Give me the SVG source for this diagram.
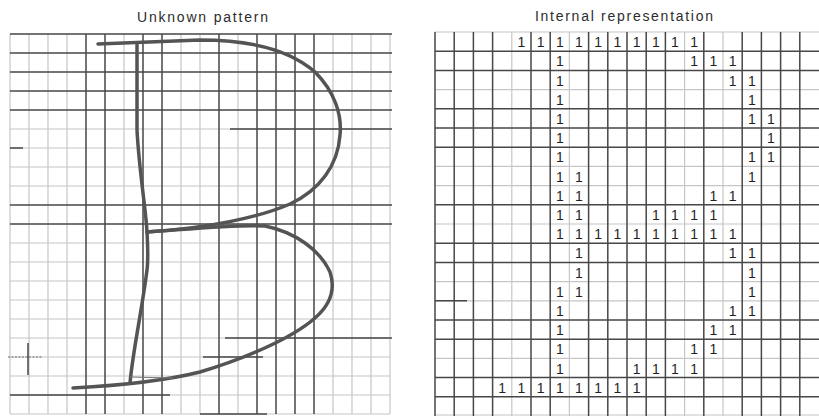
<svg xmlns="http://www.w3.org/2000/svg" width="819" height="416" viewBox="0 0 819 416">
<style>
.lt{stroke:#c6c6c6;stroke-width:1.2;fill:none}
.dk{stroke:#474747;stroke-width:1.5;fill:none}
.dot{stroke:#666;stroke-width:1;stroke-dasharray:2 1.5;fill:none}
.pen{stroke:#545454;stroke-width:3.5;fill:none;stroke-linecap:round;stroke-linejoin:round}
.ttl{font-family:"Liberation Sans",Arial,sans-serif;font-size:14px;fill:#2a2a2a}
.one{font-family:"Liberation Sans",Arial,sans-serif;font-size:14px;fill:#1e1e1e;text-anchor:middle}
</style>
<rect width="819" height="416" fill="#ffffff"/>
<g id="titles" opacity="0.99">
<text class="ttl" x="137" y="22" textLength="131" lengthAdjust="spacing">Unknown pattern</text>
<text class="ttl" x="535" y="21" textLength="178" lengthAdjust="spacing">Internal representation</text>
</g>
<g id="left-grid">
<path class="lt" d="M10 34V414M29 34V414M48 34V414M67 34V414M124 34V414M181 34V414M200 34V414M238 34V414M333 34V414M352 34V414M371 34V414M390 34V414"/>
<path class="lt" d="M10 129H390M10 148H390M10 167H390M10 186H390M10 243H390M10 262H390M10 281H390M10 300H390M10 319H390M10 338H390M10 357H390M10 376H390M10 395H390M10 414H390"/>
<path class="dk" d="M86 34V414M105 34V414M143 34V414M162 34V414M219 34V414M257 34V414M276 34V414M295 34V414M314 34V414"/>
<path class="dk" d="M10 34H392M10 53H392M10 72H392M10 91H392M10 110H392M10 205H392M10 224H392"/>
<path class="dk" d="M230 129H392M225 338H392M203 357H263M10 395H170M200 414H267M10 148H23M28 343V375"/>
<path class="dot" d="M8 357H43"/>
</g>
<g id="right-grid">
<path class="lt" d="M511.8 32V416M569.4 32V416M684.6 32V416M723 32V416"/>
<path class="lt" d="M435 32H819M435 89.6H819M435 166.4H819M435 185.6H819M435 224H819M435 281.6H819M435 300.8H819M435 358.4H819M435 415H819"/>
<path class="dk" d="M435 32V416M454.2 32V416M473.4 32V416M492.6 32V416M531 32V416M550.2 32V416M588.6 32V416M607.8 32V416M627 32V416M646.2 32V416M665.4 32V416M703.8 32V416M742.2 32V416M761.4 32V416M780.6 32V416M799.8 32V416"/>
<path class="dk" d="M435 51.2H819M435 70.4H819M435 108.8H819M435 128H819M435 147.2H819M435 204.8H819M435 243.2H819M435 262.4H819M435 320H819M435 339.2H819M435 377.6H819M435 396.8H819M435 300.8H467"/>
</g>
<g id="pattern-B">
<path class="pen" d="M98 44L200 40C250 40 290 50 315 72C335 92 342 115 340 135C338 165 320 190 290 204C260 217 210 228 147 232"/>
<path class="pen" d="M137 45L137 130C139 170 146 210 147 232C148 250 148 262 147 270C142 310 133 350 130 383"/>
<path class="pen" d="M147 232C190 229 240 224 265 226C295 232 320 250 330 272C336 290 330 305 315 318C290 340 240 360 200 372C160 382 110 386 73 388"/>
<path stroke="#777" stroke-width="1" fill="none" d="M130 377L173 378"/>
</g>
<g id="ones" opacity="0.99">
<text class="one" x="521.4" y="47.1">1</text><text class="one" x="540.6" y="47.1">1</text><text class="one" x="559.8" y="47.1">1</text><text class="one" x="579" y="47.1">1</text><text class="one" x="598.2" y="47.1">1</text><text class="one" x="617.4" y="47.1">1</text><text class="one" x="636.6" y="47.1">1</text><text class="one" x="655.8" y="47.1">1</text><text class="one" x="675" y="47.1">1</text><text class="one" x="694.2" y="47.1">1</text>
<text class="one" x="559.8" y="66.3">1</text><text class="one" x="694.2" y="66.3">1</text><text class="one" x="713.4" y="66.3">1</text><text class="one" x="732.6" y="66.3">1</text>
<text class="one" x="559.8" y="85.5">1</text><text class="one" x="732.6" y="85.5">1</text><text class="one" x="751.8" y="85.5">1</text>
<text class="one" x="559.8" y="104.7">1</text><text class="one" x="751.8" y="104.7">1</text>
<text class="one" x="559.8" y="123.9">1</text><text class="one" x="751.8" y="123.9">1</text><text class="one" x="771" y="123.9">1</text>
<text class="one" x="559.8" y="143.1">1</text><text class="one" x="771" y="143.1">1</text>
<text class="one" x="559.8" y="162.3">1</text><text class="one" x="751.8" y="162.3">1</text><text class="one" x="771" y="162.3">1</text>
<text class="one" x="559.8" y="181.5">1</text><text class="one" x="579" y="181.5">1</text><text class="one" x="751.8" y="181.5">1</text>
<text class="one" x="559.8" y="200.7">1</text><text class="one" x="579" y="200.7">1</text><text class="one" x="713.4" y="200.7">1</text><text class="one" x="732.6" y="200.7">1</text>
<text class="one" x="559.8" y="219.9">1</text><text class="one" x="579" y="219.9">1</text><text class="one" x="655.8" y="219.9">1</text><text class="one" x="675" y="219.9">1</text><text class="one" x="694.2" y="219.9">1</text><text class="one" x="713.4" y="219.9">1</text>
<text class="one" x="559.8" y="239.1">1</text><text class="one" x="579" y="239.1">1</text><text class="one" x="598.2" y="239.1">1</text><text class="one" x="617.4" y="239.1">1</text><text class="one" x="636.6" y="239.1">1</text><text class="one" x="655.8" y="239.1">1</text><text class="one" x="675" y="239.1">1</text><text class="one" x="694.2" y="239.1">1</text><text class="one" x="713.4" y="239.1">1</text><text class="one" x="732.6" y="239.1">1</text>
<text class="one" x="579" y="258.3">1</text><text class="one" x="732.6" y="258.3">1</text><text class="one" x="751.8" y="258.3">1</text>
<text class="one" x="579" y="277.5">1</text><text class="one" x="751.8" y="277.5">1</text>
<text class="one" x="559.8" y="296.7">1</text><text class="one" x="579" y="296.7">1</text><text class="one" x="751.8" y="296.7">1</text>
<text class="one" x="559.8" y="315.9">1</text><text class="one" x="732.6" y="315.9">1</text><text class="one" x="751.8" y="315.9">1</text>
<text class="one" x="559.8" y="335.1">1</text><text class="one" x="713.4" y="335.1">1</text><text class="one" x="732.6" y="335.1">1</text>
<text class="one" x="559.8" y="354.3">1</text><text class="one" x="694.2" y="354.3">1</text><text class="one" x="713.4" y="354.3">1</text>
<text class="one" x="559.8" y="373.5">1</text><text class="one" x="636.6" y="373.5">1</text><text class="one" x="655.8" y="373.5">1</text><text class="one" x="675" y="373.5">1</text><text class="one" x="694.2" y="373.5">1</text>
<text class="one" x="502.2" y="392.7">1</text><text class="one" x="521.4" y="392.7">1</text><text class="one" x="540.6" y="392.7">1</text><text class="one" x="559.8" y="392.7">1</text><text class="one" x="579" y="392.7">1</text><text class="one" x="598.2" y="392.7">1</text><text class="one" x="617.4" y="392.7">1</text><text class="one" x="636.6" y="392.7">1</text>
</g>
</svg>
